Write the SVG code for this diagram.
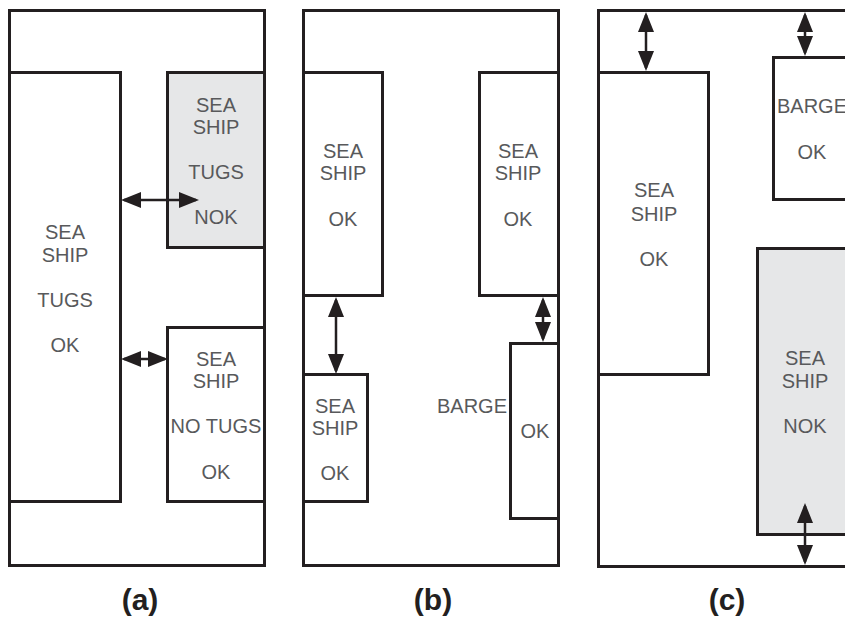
<svg xmlns="http://www.w3.org/2000/svg" width="845" height="619" viewBox="0 0 845 619">
<style>
.frame{fill:#fff;stroke:#231f20;stroke-width:3}
.box{fill:#fff;stroke:#231f20;stroke-width:3}
.gray{fill:#e6e7e8;stroke:#231f20;stroke-width:3}
.t{font-family:"Liberation Sans",Arial,sans-serif;font-size:20px;fill:#58595b;text-anchor:middle}
.cap{font-family:"Liberation Sans",Arial,sans-serif;font-size:30px;font-weight:bold;fill:#231f20;text-anchor:middle}
.arr{stroke:#231f20;stroke-width:2.5;fill:none;marker-start:url(#ah);marker-end:url(#ah)}
</style>
<defs>
<marker id="ah" viewBox="0 0 20 16" refX="17" refY="8" markerWidth="20" markerHeight="16" markerUnits="userSpaceOnUse" orient="auto-start-reverse">
<path d="M0,0 L20,8 L0,16 z" fill="#231f20"/>
</marker>
</defs>
<rect width="845" height="619" fill="#fff"/>

<!-- Panel (a) -->
<g id="panel-a">
<rect class="frame" x="9.5" y="10.5" width="255" height="555"/>
<g id="a-ship-tugs"><rect class="box" x="9.5" y="72.5" width="111" height="429"/>
<text class="t" x="65" y="239">SEA</text><text class="t" x="65" y="262">SHIP</text><text class="t" x="65" y="307">TUGS</text><text class="t" x="65" y="352">OK</text></g>
<g id="a-ship-nok"><rect class="gray" x="167.5" y="72.5" width="97" height="175"/>
<text class="t" x="216" y="112">SEA</text><text class="t" x="216" y="134">SHIP</text><text class="t" x="216" y="179">TUGS</text><text class="t" x="216" y="224">NOK</text></g>
<g id="a-ship-notugs"><rect class="box" x="167.5" y="327.5" width="97" height="174"/>
<text class="t" x="216" y="366">SEA</text><text class="t" x="216" y="388">SHIP</text><text class="t" x="216" y="433">NO TUGS</text><text class="t" x="216" y="479">OK</text></g>
<text class="cap" x="140" y="610">(a)</text>
</g>

<!-- Panel (b) -->
<g id="panel-b">
<rect class="frame" x="303.5" y="10.5" width="255" height="555"/>
<g id="b-ship-left"><rect class="box" x="303.5" y="72.5" width="79" height="223"/>
<text class="t" x="343" y="158">SEA</text><text class="t" x="343" y="180">SHIP</text><text class="t" x="343" y="226">OK</text></g>
<g id="b-ship-right"><rect class="box" x="479.5" y="72.5" width="79" height="223"/>
<text class="t" x="518" y="158">SEA</text><text class="t" x="518" y="180">SHIP</text><text class="t" x="518" y="226">OK</text></g>
<g id="b-ship-small"><rect class="box" x="303.5" y="374.5" width="64" height="127"/>
<text class="t" x="335" y="413">SEA</text><text class="t" x="335" y="435">SHIP</text><text class="t" x="335" y="480">OK</text></g>
<g id="b-barge"><rect class="box" x="510.5" y="343.5" width="48" height="175"/>
<text class="t" x="507" y="413" style="text-anchor:end">BARGE</text><text class="t" x="535" y="438">OK</text></g>
<text class="cap" x="433" y="610">(b)</text>
</g>

<!-- Panel (c) -->
<g id="panel-c">
<rect class="frame" x="598.5" y="10.5" width="300" height="556"/>
<g id="c-ship-left"><rect class="box" x="598.5" y="72.5" width="110" height="302"/>
<text class="t" x="654" y="197">SEA</text><text class="t" x="654" y="221">SHIP</text><text class="t" x="654" y="266">OK</text></g>
<g id="c-barge"><rect class="box" x="773.5" y="57.5" width="120" height="142"/>
<text class="t" x="812" y="113">BARGE</text><text class="t" x="812" y="159">OK</text></g>
<g id="c-ship-nok"><rect class="gray" x="757.5" y="248.5" width="140" height="286"/>
<text class="t" x="805" y="365">SEA</text><text class="t" x="805" y="388">SHIP</text><text class="t" x="805" y="433">NOK</text></g>
<text class="cap" x="727" y="610">(c)</text>
</g>

<!-- Connectors -->
<g id="connectors">
<path class="arr" d="M124,200 H196"/>
<path class="arr" d="M124,359 H165"/>
<path class="arr" d="M336,300 V371"/>
<path class="arr" d="M543,300 V339"/>
<path class="arr" d="M646,15 V68"/>
<path class="arr" d="M805,15 V53"/>
<path class="arr" d="M805,506 V562"/>
</g>
</svg>
